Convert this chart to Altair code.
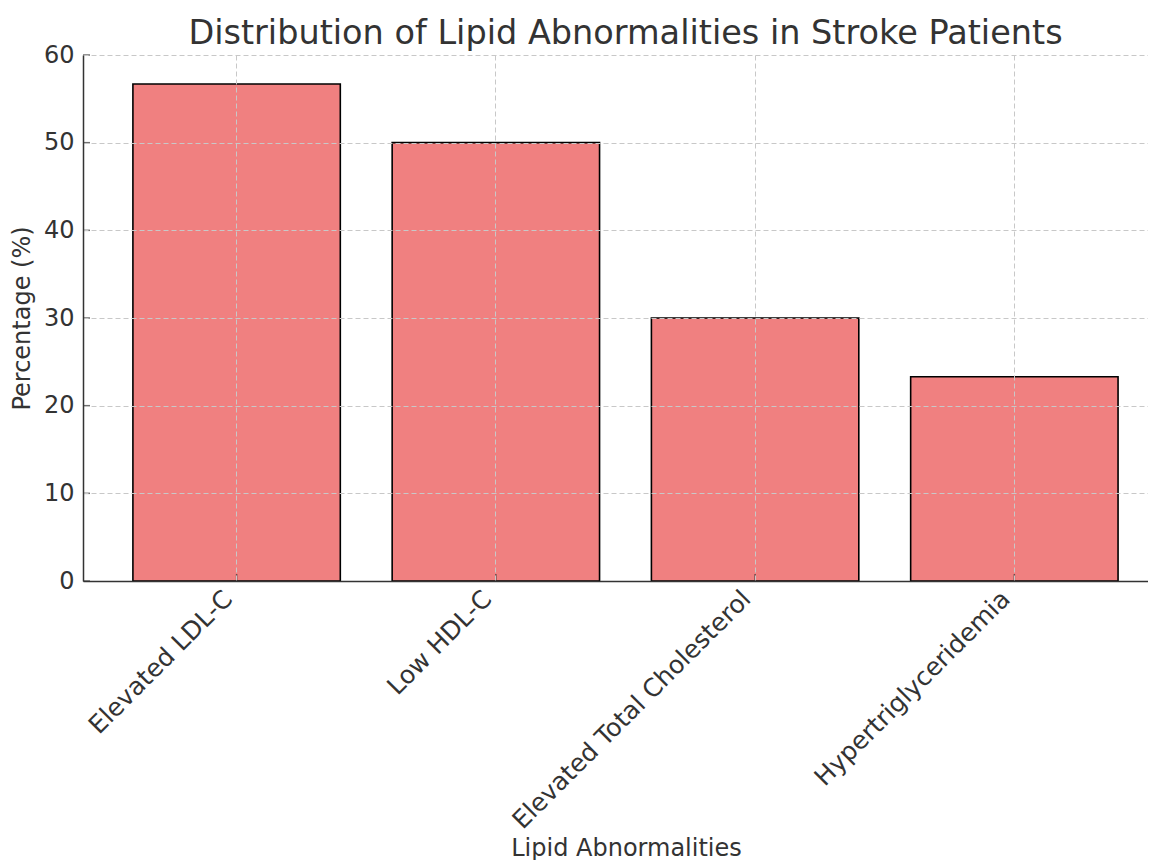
import altair as alt
import pandas as pd

categories = ["Elevated LDL-C", "Low HDL-C", "Elevated Total Cholesterol", "Hypertriglyceridemia"]
percentages = [56.7, 50.0, 30.0, 23.3]
y_ticks = [0, 10, 20, 30, 40, 50, 60]

df = pd.DataFrame({"category": categories, "pct": percentages})
tick_df = pd.DataFrame({"t": y_ticks})

FONT = "DejaVu Sans"
TXT = "#333333"
FS = 24

xscale = alt.Scale(paddingInner=0.2, paddingOuter=0.154, align=0.625)
yscale = alt.Scale(domain=[0, 60], nice=False)

bars = alt.Chart(df).mark_bar(
    color="#F08080", stroke="black", strokeWidth=1.6
).encode(
    x=alt.X("category:N", sort=categories, scale=xscale,
            title="Lipid Abnormalities",
            axis=alt.Axis(labelAngle=-45, labelAlign="right", labelBaseline="top",
                          bandPosition=0.5, ticks=False, labelPadding=5, labelOffset=-17,
                          labelLimit=0,
                          grid=True, gridDash=[5, 3], gridColor="#c8c8c8",
                          domainColor=TXT, domainWidth=1.5, zindex=1,
                          labelFontSize=25, titleFontSize=FS,
                          titleX=543, titleY=255, titleAlign="center", titleBaseline="top",
                          labelColor=TXT, titleColor=TXT, titleFontWeight="normal")),
    y=alt.Y("pct:Q", scale=yscale, title="Percentage (%)",
            axis=alt.Axis(values=y_ticks, ticks=False, labelPadding=9,
                          grid=True, gridDash=[5, 3], gridColor="#c8c8c8",
                          domainColor=TXT, domainWidth=1.5, zindex=1,
                          labelFontSize=FS, titleFontSize=FS, titlePadding=9,
                          labelColor=TXT, titleColor=TXT, titleFontWeight="normal")),
)

xticks = alt.Chart(df).mark_tick(orient="vertical", size=7, thickness=1.5,
                                 color=TXT, yOffset=-3.5).encode(
    x=alt.X("category:N", sort=categories, scale=xscale),
    y=alt.datum(0, scale=yscale),
)

yticks = alt.Chart(tick_df).mark_tick(orient="horizontal", size=7, thickness=1.5,
                                      color=TXT, xOffset=3.5).encode(
    y=alt.Y("t:Q", scale=yscale),
    x=alt.value(0),
)

chart = alt.layer(bars, xticks, yticks).properties(
    width=1065, height=526,
    title=alt.TitleParams("Distribution of Lipid Abnormalities in Stroke Patients",
                          fontSize=33.5, font=FONT, fontWeight="normal", color=TXT,
                          offset=-8, dx=10),
    padding={"left": 2, "top": 8, "right": 0, "bottom": 0},
).configure(font=FONT).configure_view(strokeWidth=0).configure_axis(
    labelFont=FONT, titleFont=FONT
)

chart.save("out.html", embed_options={"renderer": "svg", "actions": False})
